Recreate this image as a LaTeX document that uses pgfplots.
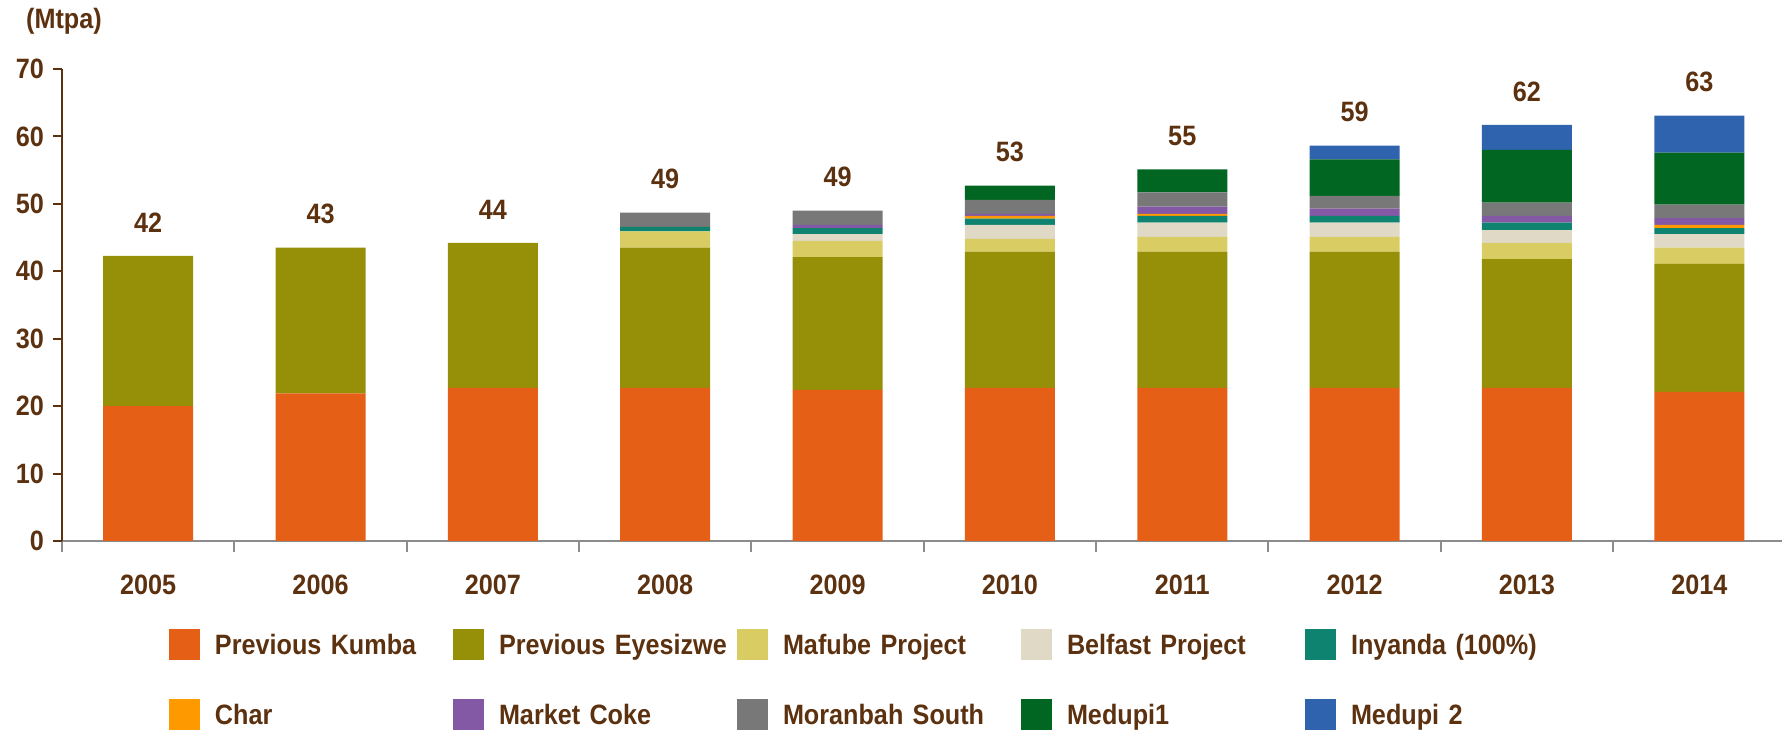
\documentclass[border=0pt]{standalone}
\usepackage{fontspec}
\setmainfont{Liberation Sans}[FakeStretch=0.9]
\usepackage{pgfplots}
\usepackage{pgfplotstable}
\pgfplotsset{compat=1.18}
\definecolor{txtbrown}{HTML}{5C3110}
\definecolor{axgray}{HTML}{8C8C8C}
\definecolor{ckumba}{HTML}{E65F17}
\definecolor{ceyes}{HTML}{969008}
\definecolor{cmafube}{HTML}{D9CC62}
\definecolor{cbelfast}{HTML}{E0D9C6}
\definecolor{cinyanda}{HTML}{0D8370}
\definecolor{cchar}{HTML}{FF9900}
\definecolor{ccoke}{HTML}{8358A5}
\definecolor{cmoran}{HTML}{787878}
\definecolor{cmedA}{HTML}{006622}
\definecolor{cmedB}{HTML}{3063AE}
\pgfplotstableread{
x kumba eyes mafube belfast inyanda char coke moranbah medA medB total lab
0 20.0 22.3 0   0   0   0   0   0   0   0    42.3  42
1 21.9 21.6 0   0   0   0   0   0   0   0    43.5  43
2 22.7 21.5 0   0   0   0   0   0   0   0    44.2  44
3 22.7 20.8 2.4 0   0.7 0   0   2.1 0   0    48.7  49
4 22.4 19.7 2.4 1.0 0.9 0   0.5 2.1 0   0    49.0  49
5 22.7 20.2 1.9 2.1 0.9 0.4 0.3 2.1 2.1 0    52.7  53
6 22.7 20.2 2.2 2.1 1.0 0.3 1.1 2.1 3.4 0    55.1  55
7 22.7 20.2 2.2 2.1 1.0 0   1.1 1.9 5.4 2.05 58.65 59
8 22.7 19.1 2.4 1.9 1.1 0   1.0 2.0 7.8 3.7  61.7  62
9 22.1 19.0 2.4 2.0 0.9 0.5 1.0 2.0 7.7 5.5  63.1  63
}\datatable
\pgfplotsset{common/.style={
  at={(0,0)}, anchor=south west,
  scale only axis, width=860pt, height=236pt,
  xmin=-0.5, xmax=9.48, ymin=0, ymax=70,
  clip=false}}
\begin{document}
\begin{tikzpicture}[font=\fontsize{14}{16}\selectfont\bfseries]
\begin{axis}[
  common,
  ybar stacked, bar width=45pt,
  axis x line*=bottom, axis y line*=left,
  x axis line style={draw=axgray, line width=1.2pt, -},
  y axis line style={draw=txtbrown, line width=1pt, -},
  tick align=outside,
  ytick={0,10,...,70},
  ytick style={draw=txtbrown, line width=1pt},
  major tick length=4.5pt,
  minor tick length=5.5pt,
  xtick={0,...,9},
  xticklabels={2005,2006,2007,2008,2009,2010,2011,2012,2013,2014},
  major x tick style={draw=none},
  minor xtick={-0.5,0.5,...,8.5},
  minor x tick style={draw=axgray, line width=1pt},
  /pgf/number format/assume math mode=true,
  ticklabel style={font=\fontsize{14}{16}\selectfont\bfseries, text=txtbrown},
  xticklabel style={yshift=-9pt},
  yticklabel style={xshift=-1pt},
  legend columns=5,
  legend image code/.code={\fill[#1] (0pt,-7.75pt) rectangle (15.5pt,7.75pt);},
  legend style={at={(0,0)}, anchor=north west, xshift=53.5pt, yshift=-44pt,
    draw=none, fill=none, inner sep=0pt, outer sep=0pt, row sep=19.5pt,
    nodes={inner sep=0pt, text width=119pt, align=left, text=txtbrown,
      text height=10pt, text depth=0pt,
      font=\fontsize{14}{16}\selectfont\bfseries},
    /tikz/every odd column/.append style={column sep=7.5pt},
    /tikz/every even column/.append style={column sep=0pt}},
]
\addplot[fill=ckumba, draw=none] table[x=x,y=kumba]{\datatable};
\addlegendentry{Previous Kumba}
\addplot[fill=ceyes, draw=none] table[x=x,y=eyes]{\datatable};
\addlegendentry{Previous Eyesizwe}
\addplot[fill=cmafube, draw=none] table[x=x,y=mafube]{\datatable};
\addlegendentry{Mafube Project}
\addplot[fill=cbelfast, draw=none] table[x=x,y=belfast]{\datatable};
\addlegendentry{Belfast Project}
\addplot[fill=cinyanda, draw=none] table[x=x,y=inyanda]{\datatable};
\addlegendentry{Inyanda (100\%)}
\addplot[fill=cchar, draw=none] table[x=x,y=char]{\datatable};
\addlegendentry{Char}
\addplot[fill=ccoke, draw=none] table[x=x,y=coke]{\datatable};
\addlegendentry{Market Coke}
\addplot[fill=cmoran, draw=none] table[x=x,y=moranbah]{\datatable};
\addlegendentry{Moranbah South}
\addplot[fill=cmedA, draw=none] table[x=x,y=medA]{\datatable};
\addlegendentry{Medupi1}
\addplot[fill=cmedB, draw=none] table[x=x,y=medB]{\datatable};
\addlegendentry{Medupi 2}
\node[text=txtbrown, anchor=center, xshift=1pt, yshift=24pt] at (rel axis cs:0,1) {(Mtpa)};
\end{axis}
\begin{axis}[common, hide axis]
\addplot[draw=none, mark=none,
  point meta=explicit symbolic,
  nodes near coords,
  every node near coord/.append style={anchor=south, inner sep=0pt, yshift=11.5pt,
    text=txtbrown, font=\fontsize{14}{16}\selectfont\bfseries}]
  table[x=x,y=total,meta=lab]{\datatable};
\end{axis}
\pgfresetboundingbox
\path (-31pt,-96pt) rectangle (860pt,270.5pt);
\end{tikzpicture}
\end{document}
